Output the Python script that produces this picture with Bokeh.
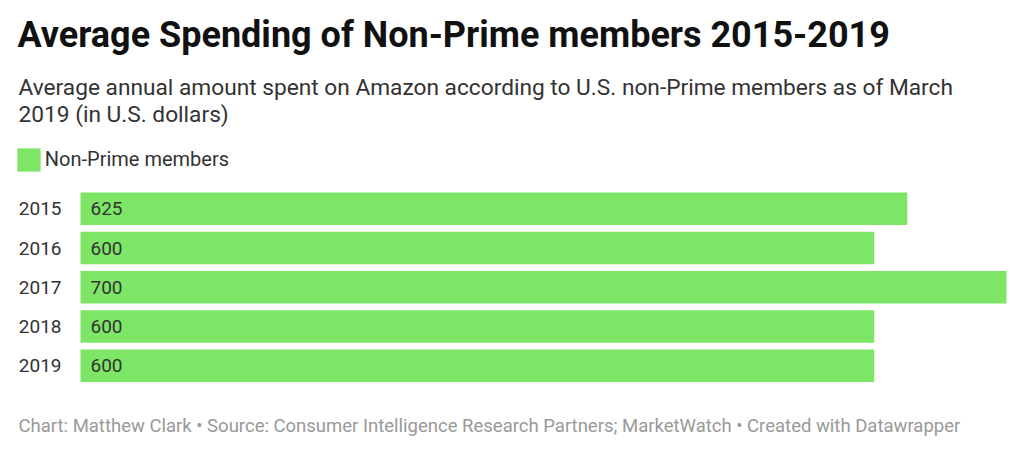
from bokeh.plotting import figure
from bokeh.models import ColumnDataSource, Label, Legend, LegendItem, Range1d
from bokeh.core.properties import value
from bokeh.embed import file_html
from bokeh.resources import INLINE

years = ["2015", "2016", "2017", "2018", "2019"]
spending = [625, 600, 700, 600, 600]
series_name = "Non-Prime members"
title_text = "Average Spending of Non-Prime members 2015-2019"
subtitle_lines = [
    "Average annual amount spent on Amazon according to U.S. non-Prime members as of March",
    "2019 (in U.S. dollars)",
]
footer_text = ("Chart: Matthew Clark \u2022 Source: Consumer Intelligence Research Partners; "
               "MarketWatch \u2022 Created with Datawrapper")

FONT = "Roboto"
GREEN = "#7ee667"
W, H = 1016, 444

# layout: pixel geometry of the bar area
BAR_LEFT, BAR_RIGHT, XMAX = 80, 1006, 700
K = (BAR_RIGHT - BAR_LEFT) / XMAX          # px per dollar
ROW0, PITCH = 208.3, 39.25                 # first row centre, row pitch (px)

idx = list(range(len(years)))
src = ColumnDataSource(dict(idx=idx, year=years, value=spending,
                            label=[str(v) for v in spending]))

p = figure(width=W, height=H, output_backend="svg", toolbar_location=None,
           x_range=Range1d(-BAR_LEFT / K, (W - BAR_LEFT) / K),
           y_range=Range1d((H - ROW0) / PITCH, -ROW0 / PITCH),
           x_axis_location=None, y_axis_location=None,
           min_border=0, min_border_left=0, min_border_right=0,
           min_border_top=0, min_border_bottom=0)
p.outline_line_color = None
p.grid.visible = False
p.background_fill_color = "white"
p.border_fill_color = "white"

bars = p.hbar(y="idx", right="value", left=0, height=0.83, source=src,
              fill_color=GREEN, line_color=None)

# value labels inside bars
p.text(x=0, y="idx", text="label", source=src, x_offset=10,
       text_font=value(FONT), text_font_size="19px", text_color="#333333",
       text_baseline="middle", text_align="left")
# category labels
p.text(x=0, y="idx", text="year", source=src, x_offset=-19,
       text_font=value(FONT), text_font_size="19px", text_color="#333333",
       text_baseline="middle", text_align="right")

def lab(text, x, y_page, size, color, style="normal"):
    p.add_layout(Label(x=x, y=H - y_page, x_units="screen", y_units="screen", text=text,
                       text_font=FONT, text_font_size=size, text_font_style=style,
                       text_color=color, text_baseline="alphabetic"))

lab(title_text, 17, 34.3, "36px", "#111111", "bold")
lab(subtitle_lines[0], 18, 86.8, "22.7px", "#333333")
lab(subtitle_lines[1], 18, 113.5, "22.7px", "#333333")
lab(footer_text, 18, 425.5, "18.5px", "#999999")

legend = Legend(items=[LegendItem(label=series_name, renderers=[bars])],
                location=(13.8, H - 173.9), orientation="horizontal",
                glyph_width=29, glyph_height=29, label_standoff=2,
                padding=0, margin=0, border_line_color=None, background_fill_alpha=0,
                label_text_font=FONT, label_text_font_size="20px", label_text_color="#333333")
p.add_layout(legend, "center")

open("out.html", "w").write(file_html(p, INLINE))
